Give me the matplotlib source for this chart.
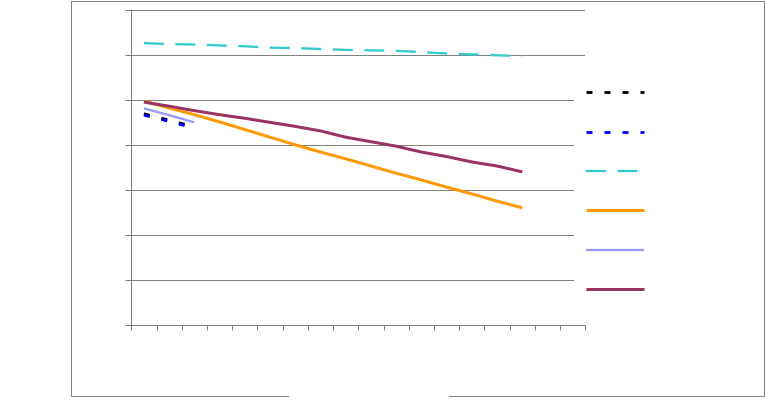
import numpy as np
import matplotlib
matplotlib.use('Agg')
import matplotlib.pyplot as plt
from matplotlib.patches import Rectangle

plt.rcParams['lines.scale_dashes'] = False

# categories on the x axis (labels are not shown in the source picture)
categories = np.arange(1, 19)

# series values
serie_black = [47.0, 45.6, 44.1]
serie_blue = [46.7, 45.3, 43.8]
serie_cyan = [62.7, 62.5, 62.4, 62.2, 62.0, 61.7, 61.6, 61.4, 61.2, 61.1,
              61.0, 60.7, 60.4, 60.2, 60.0, 59.8]
serie_orange = [49.8, 48.3, 46.8, 45.2, 43.5, 41.8, 40.1, 38.5, 37.0, 35.4,
                33.8, 32.3, 30.7, 29.2, 27.6, 26.1]
serie_lilac = [48.2, 46.7, 45.1]
serie_purple = [49.6, 48.7, 47.7, 46.8, 46.0, 45.1, 44.2, 43.2, 41.8, 40.8,
                39.8, 38.5, 37.5, 36.3, 35.4, 34.1]
legend_labels = ['', '', '', '', '', '']

W, H = 765, 404
fig = plt.figure(figsize=(W / 100, H / 100), dpi=100)
ax = fig.add_axes([131.3 / W, 1 - 325.3 / H, (585.3 - 131.3) / W, (325.3 - 10.3) / H])

grey = '#808080'
px = 0.72  # points per pixel

h1, = ax.plot(categories[:len(serie_black)], serie_black, color='black', lw=2.8 * px,
              linestyle=(0, (6 * px, 12 * px)), dash_capstyle='butt')
h2, = ax.plot(categories[:len(serie_blue)], serie_blue, color='#0000FF', lw=2.8 * px,
              linestyle=(0, (6 * px, 12 * px)), dash_capstyle='butt')
h3, = ax.plot(categories[:len(serie_cyan)], serie_cyan, color='#33CCCC', lw=2.3 * px,
              linestyle=(0, (20 * px, 11.5 * px)), dash_capstyle='butt')
h4, = ax.plot(categories[:len(serie_orange)], serie_orange, color='#FF9900', lw=3 * px,
              solid_capstyle='butt')
h5, = ax.plot(categories[:len(serie_lilac)], serie_lilac, color='#9999FF', lw=2.3 * px,
              solid_capstyle='butt')
h6, = ax.plot(categories[:len(serie_purple)], serie_purple, color='#993366', lw=3 * px,
              solid_capstyle='butt')

ax.set_xlim(0.5, 18.5)
ax.set_ylim(0, 70)
ax.set_yticks(np.arange(0, 71, 10))
ax.set_xticks(np.arange(0.5, 18.6, 1))
ax.set_xticklabels([])
ax.set_yticklabels([])
ax.yaxis.grid(True, color=grey, lw=1.0 * px)
ax.set_axisbelow(True)
for s in ['top', 'right']:
    ax.spines[s].set_visible(False)
for s in ['left', 'bottom']:
    ax.spines[s].set_color(grey)
    ax.spines[s].set_linewidth(1.0 * px)
ax.tick_params(axis='y', length=6 * px, width=1.0 * px, color=grey, direction='out')
ax.tick_params(axis='x', length=5 * px, width=1.0 * px, color=grey, direction='out')

fs = 10
leg = fig.legend([h1, h2, h3, h4, h5, h6], legend_labels, loc='upper left',
                 bbox_to_anchor=(574 / W, 1 - 74 / H), fontsize=fs,
                 frameon=True, facecolor='white', edgecolor='none', framealpha=1,
                 fancybox=False, borderaxespad=0, borderpad=12 / (fs / 0.72),
                 handlelength=58 / (fs / 0.72), handletextpad=0.0, labelspacing=1.83)

# outer chart border, with a gap at the bottom where the axis title box sits
fig.add_artist(Rectangle((71.3 / W, 1 - 396 / H), (764 - 71.3) / W, (396 - 0.5) / H,
                         transform=fig.transFigure, fill=False, edgecolor=grey, lw=1.0 * px))
fig.add_artist(Rectangle((289 / W, 1 - 399 / H), (449 - 289) / W, 6 / H,
                         transform=fig.transFigure, facecolor='white', edgecolor='none'))

fig.savefig('out.png', dpi=100)
